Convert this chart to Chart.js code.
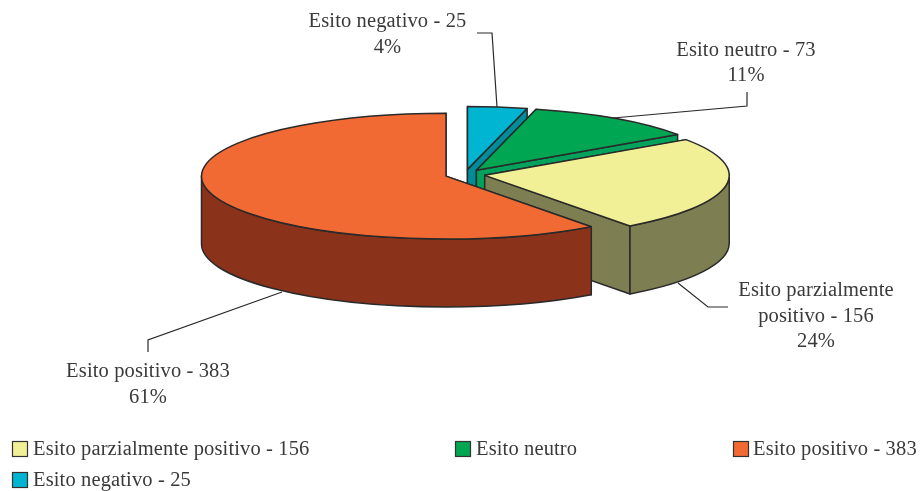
<!DOCTYPE html>
<html>
<head>
<meta charset="utf-8">
<style>html,body{margin:0;padding:0;background:#fff}canvas{display:block}</style>
<script src="https://cdn.jsdelivr.net/npm/chart.js@4"></script>
</head>
<body>
<canvas id="c" width="921" height="491"></canvas>
<script>
const categories = ['Esito negativo', 'Esito neutro', 'Esito parzialmente positivo', 'Esito positivo'];
const values = [25, 73, 156, 383];
const percentLabels = ['4%', '11%', '24%', '61%'];
const topColors = ['#00B5D2', '#00A651', '#F2F096', '#F26A33'];
const wallColors = ['#008C98', '#00A25C', '#7D7F52', '#8B321B'];
const legendTexts = ['Esito parzialmente positivo - 156', 'Esito neutro', 'Esito positivo - 383', 'Esito negativo - 25'];
const legendColors = ['#F2F096', '#00A651', '#F26A33', '#00B5D2'];

const FONT = '20.5px "Liberation Serif"';
const TEXT = '#3a3a3a';
const LINE = '#2a2a2a';
const SQUASH = 63 / 245;
const DEPTH = 68;

const calloutLayout = [
  {lines: [categories[0] + ' - ' + values[0], percentLabels[0]], x: 387.5, y: [22, 48],
   leader: [[477, 33], [492, 33], [497, 107]]},
  {lines: [categories[1] + ' - ' + values[1], percentLabels[1]], x: 746, y: [51, 76],
   leader: [[747, 92], [747, 106], [613, 118]]},
  {lines: ['Esito parzialmente', 'positivo - ' + values[2], percentLabels[2]], x: 816, y: [291, 317, 342],
   leader: [[678, 283], [708, 307], [728, 307]]},
  {lines: [categories[3] + ' - ' + values[3], percentLabels[3]], x: 148, y: [372, 398],
   leader: [[282, 292], [148, 340], [148, 352]]}
];
const legendLayout = [
  {box: 12, text: 33, y: 450}, {box: 455, text: 476, y: 450},
  {box: 733, text: 753, y: 450}, {box: 12, text: 33, y: 481}
];

function drawSlice(ctx, arc, wall) {
  const o = arc.options, R = arc.outerRadius, a0 = arc.startAngle, a1 = arc.endAngle;
  const mid = (a0 + a1) / 2, d = o.offset || 0;
  const Ax = arc.x + Math.cos(mid) * d, Ay = arc.y + Math.sin(mid) * d * SQUASH;
  const Ry = R * SQUASH;
  ctx.lineWidth = o.borderWidth;
  ctx.strokeStyle = o.borderColor;
  ctx.lineJoin = 'round';
  const edge = a => {
    const Px = Ax + Math.cos(a) * R, Py = Ay + Math.sin(a) * Ry;
    ctx.beginPath();
    ctx.moveTo(Ax, Ay); ctx.lineTo(Px, Py); ctx.lineTo(Px, Py + DEPTH); ctx.lineTo(Ax, Ay + DEPTH);
    ctx.closePath();
    ctx.fillStyle = wall; ctx.fill(); ctx.stroke();
  };
  const edges = [a0, a1].sort((p, q) => Math.sin(p) - Math.sin(q));
  edges.forEach(edge);
  const f0 = Math.max(a0, 0), f1 = Math.min(a1, Math.PI);
  if (f1 > f0) {
    ctx.beginPath();
    ctx.ellipse(Ax, Ay, R, Ry, 0, f0, f1, false);
    ctx.ellipse(Ax, Ay + DEPTH, R, Ry, 0, f1, f0, true);
    ctx.closePath();
    ctx.fillStyle = wall; ctx.fill(); ctx.stroke();
  }
  ctx.beginPath();
  ctx.moveTo(Ax, Ay);
  ctx.ellipse(Ax, Ay, R, Ry, 0, a0, a1, false);
  ctx.closePath();
  ctx.fillStyle = o.backgroundColor; ctx.fill(); ctx.stroke();
}

const pie3d = {
  id: 'pie3d',
  beforeDatasetDraw(chart, args) {
    const ctx = chart.ctx;
    ctx.save();
    args.meta.data.forEach((arc, i) => drawSlice(ctx, arc, wallColors[i]));
    ctx.restore();
    return false;
  },
  afterDraw(chart) {
    const ctx = chart.ctx;
    ctx.save();
    ctx.strokeStyle = LINE; ctx.lineWidth = 1.2;
    calloutLayout.forEach(c => {
      ctx.beginPath();
      c.leader.forEach((p, i) => i ? ctx.lineTo(p[0], p[1]) : ctx.moveTo(p[0], p[1]));
      ctx.stroke();
    });
    ctx.font = FONT; ctx.letterSpacing = '0.13px';
    ctx.fillStyle = TEXT; ctx.textBaseline = 'middle'; ctx.textAlign = 'center';
    calloutLayout.forEach(c => c.lines.forEach((t, i) => ctx.fillText(t, c.x, c.y[i])));
    ctx.textAlign = 'left';
    legendTexts.forEach((t, i) => {
      const l = legendLayout[i];
      ctx.fillStyle = legendColors[i];
      ctx.fillRect(l.box + .5, l.y - 8.5, 15, 15);
      ctx.strokeStyle = '#333'; ctx.lineWidth = 1.2;
      ctx.strokeRect(l.box + .5, l.y - 8.5, 15, 15);
      ctx.fillStyle = TEXT;
      ctx.fillText(t, l.text, l.y);
    });
    ctx.restore();
  }
};

new Chart(document.getElementById('c'), {
  type: 'pie',
  data: {
    labels: categories,
    datasets: [{
      data: values,
      backgroundColor: topColors,
      borderColor: LINE,
      borderWidth: 1.5,
      offset: 20,
      hoverOffset: 0
    }]
  },
  options: {
    responsive: false,
    animation: false,
    radius: 244.5,
    events: [],
    layout: {padding: {left: 9, right: 0, top: 0, bottom: 142}},
    plugins: {legend: {display: false}, tooltip: {enabled: false}}
  },
  plugins: [pie3d]
});
</script>
</body>
</html>
